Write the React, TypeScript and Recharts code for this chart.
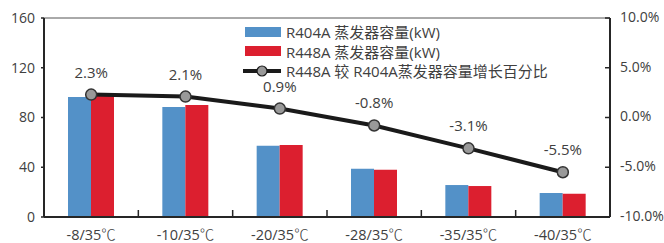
import {
  ComposedChart,
  Bar,
  Line,
  XAxis,
  YAxis,
  LabelList,
  ReferenceLine,
} from 'recharts'

const categories = ['-8/35℃', '-10/35℃', '-20/35℃', '-28/35℃', '-35/35℃', '-40/35℃']
const r404a = [96.5, 88.4, 57.3, 38.8, 25.7, 19.3]
const r448a = [98.7, 90.0, 57.9, 38.0, 24.9, 18.7]
const growth = [2.3, 2.1, 0.9, -0.8, -3.1, -5.5]

const leftTicks = [0, 40, 80, 120, 160]
const rightTicks = [-10, -5, 0, 5, 10]

const seriesNames = [
  'R404A 蒸发器容量(kW)',
  'R448A 蒸发器容量(kW)',
  'R448A 较 R404A蒸发器容量增长百分比',
]

const data = categories.map((c, i) => ({
  cat: c,
  a: r404a[i],
  b: r448a[i],
  g: growth[i],
}))

const W = 664
const H = 243
const LEFT_W = 44
const RIGHT_W = 54
const PLOT_W = W - LEFT_W - RIGHT_W
const BAND = PLOT_W / categories.length

const BLUE = '#5391C8'
const RED = '#DC1F2F'
const AXIS = '#262626'
const TEXT = '#404040'
const FONT = '"Open Sans", "Noto Sans CJK SC", sans-serif'
const CJK = '"Noto Sans CJK SC", sans-serif'

function XTick(props: any) {
  const { x, y, payload, index } = props
  const label: string = payload.value
  const main = label.replace('℃', '')
  return (
    <g>
      {index < categories.length - 1 && (
        <line x1={x + BAND / 2} x2={x + BAND / 2} y1={y - 7} y2={y} stroke={AXIS} strokeWidth={1.5} />
      )}
      <text x={x} y={y + 19} textAnchor="middle" dominantBaseline="middle" fontSize={14.5} fill={TEXT} fontFamily={FONT}>
        {main}
        <tspan fontFamily={CJK} fontWeight={300}>℃</tspan>
      </text>
    </g>
  )
}

function RightTick(props: any) {
  const { x, y, payload } = props
  const axisX = x - 10
  return (
    <g>
      <line x1={axisX - 5} x2={axisX} y1={y} y2={y} stroke={AXIS} strokeWidth={1.5} />
      <text x={x} y={y} dominantBaseline="middle" fontSize={14} fill={TEXT} fontFamily={FONT}>
        {payload.value.toFixed(1) + '%'}
      </text>
    </g>
  )
}

function LegendBox() {
  const row = { display: 'flex', alignItems: 'center', height: 19.5 }
  const txt = { fontSize: 15, color: TEXT, fontFamily: FONT, marginLeft: 5, whiteSpace: 'nowrap' as const }
  return (
    <div style={{ position: 'absolute', left: 243, top: 22 }}>
      <div style={row}>
        <span style={{ width: 36, height: 10, marginLeft: 2, background: BLUE, display: 'inline-block' }} />
        <span style={txt}>{seriesNames[0]}</span>
      </div>
      <div style={row}>
        <span style={{ width: 36, height: 10, marginLeft: 2, background: RED, display: 'inline-block' }} />
        <span style={txt}>{seriesNames[1]}</span>
      </div>
      <div style={row}>
        <svg width={38} height={12} style={{ display: 'block' }}>
          <line x1={0} x2={38} y1={6} y2={6} stroke="#1a1a1a" strokeWidth={4} />
          <circle cx={19} cy={6} r={5} fill="#999" stroke="#1a1a1a" strokeWidth={1.2} />
        </svg>
        <span style={txt}>{seriesNames[2]}</span>
      </div>
    </div>
  )
}

export default function App() {
  return (
    <div style={{ position: 'absolute', left: 0, top: 0, width: W, height: H, background: '#fff' }}>
      <ComposedChart
        width={W}
        height={H}
        data={data}
        margin={{ top: 18, right: 0, bottom: 0, left: 0 }}
        barCategoryGap="25%"
        barGap={0}
      >
        <XAxis
          dataKey="cat"
          height={26}
          tick={<XTick />}
          tickLine={false}
          tickSize={0}
          tickMargin={0}
          axisLine={{ stroke: AXIS, strokeWidth: 2 }}
          interval={0}
        />
        <YAxis
          yAxisId="left"
          width={LEFT_W}
          domain={[0, 160]}
          ticks={leftTicks}
          tickSize={3}
          tickMargin={6}
          tick={{ fontSize: 14, fill: TEXT, fontFamily: FONT }}
          tickLine={{ stroke: AXIS, strokeWidth: 1.5 }}
          axisLine={{ stroke: AXIS, strokeWidth: 2 }}
        />
        <YAxis
          yAxisId="right"
          orientation="right"
          width={RIGHT_W}
          domain={[-10, 10]}
          ticks={rightTicks}
          tickSize={0}
          tickMargin={10}
          tick={<RightTick />}
          axisLine={{ stroke: AXIS, strokeWidth: 2 }}
        />
        <ReferenceLine yAxisId="left" y={160} stroke="#555" strokeWidth={1} />
        <Bar yAxisId="left" dataKey="a" name={seriesNames[0]} fill={BLUE} barSize={23} isAnimationActive={false} />
        <Bar yAxisId="left" dataKey="b" name={seriesNames[1]} fill={RED} barSize={23} isAnimationActive={false} />
        <Line
          yAxisId="right"
          dataKey="g"
          name={seriesNames[2]}
          stroke="#1a1a1a"
          strokeWidth={4}
          dot={{ r: 5.5, fill: '#999', stroke: '#333', strokeWidth: 1.5 }}
          isAnimationActive={false}
        >
          <LabelList
            dataKey="g"
            position="top"
            offset={17}
            formatter={(v: any) => Number(v).toFixed(1) + '%'}
            style={{ fontSize: 15, fill: TEXT, fontFamily: FONT }}
          />
        </Line>
      </ComposedChart>
      <LegendBox />
    </div>
  )
}
